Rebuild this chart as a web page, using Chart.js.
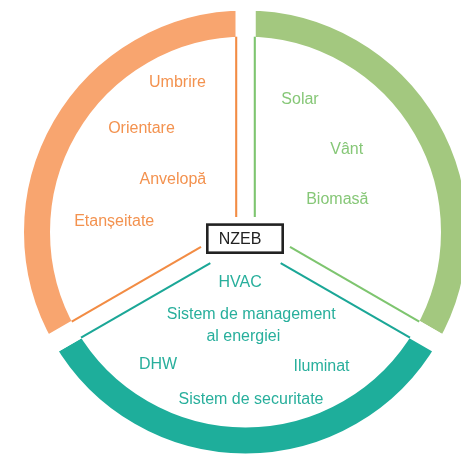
<!DOCTYPE html>
<html><head><meta charset="utf-8">
<script src="https://cdn.jsdelivr.net/npm/chart.js@4"></script>
<style>
html,body{margin:0;padding:0;background:#fff;overflow:hidden;width:461px;height:454px}
#wrap{position:absolute;left:0;top:0;width:491px;height:464px}
</style>
</head><body><div id="wrap"><canvas id="c"></canvas></div>
<script>
// ---- data ----
const categories = ['Surse regenerabile', 'Sisteme tehnice', 'Proiectare pasivă'];
const values = [1, 1, 1];
const greenItems = ['Solar', 'Vânt', 'Biomasă'];
const tealItems = ['HVAC', 'Sistem de management', 'al energiei', 'DHW', 'Iluminat', 'Sistem de securitate'];
const orangeItems = ['Umbrire', 'Orientare', 'Anvelopă', 'Etanșeitate'];
const centerLabel = 'NZEB';

// ---- layout / style (offsets from ring centre) ----
const arcColors = ['#A3C87F', '#1EAE9B', '#F8A56F'];
const lineColors = ['#7EC56F', '#1BA797', '#F28C44'];
const textColors = ['#86C777', '#28AF9C', '#F3924F'];
const greenPos = [[54.5, -127.7], [101.2, -77.8], [91.8, -28.2]];
const tealPos = [[-5.3, 55.3], [5.7, 86.7], [-2.2, 108.5], [-87.5, 137], [76, 139], [5.5, 172.3]];
const orangePos = [[-68, -144.7], [-104, -99.5], [-72.6, -48.5], [-131.3, -6.5]];
const GAP = 20;          // white gap between ring segments
const LINE_OFF = 9.3;    // thin line offset from gap centre
const FONT = '16px "Liberation Sans", Arial, Helvetica, sans-serif';

function startDist(angle) {
  // distance from centre where thin separator lines begin (box is wider than tall)
  const s = Math.abs(Math.sin(angle));
  return s > 0.9 ? 15 : 46;
}

const overlay = {
  id: 'overlay',
  afterDatasetsDraw(chart) {
    const ctx = chart.ctx;
    const meta = chart.getDatasetMeta(0);
    const a0 = meta.data[0];
    const cx = a0.x, cy = a0.y;
    const rIn = a0.innerRadius + GAP / 2;
    ctx.save();
    ctx.lineCap = 'butt';
    ctx.lineWidth = 2.1;
    meta.data.forEach((arc, i) => {
      ctx.strokeStyle = lineColors[i];
      const edges = [[arc.startAngle, 1], [arc.endAngle, -1]];
      edges.forEach(([ang, sgn]) => {
        const ux = Math.cos(ang), uy = Math.sin(ang);
        const px = -uy * sgn * LINE_OFF, py = ux * sgn * LINE_OFF;
        const t0 = startDist(ang);
        const t1 = Math.sqrt(rIn * rIn - LINE_OFF * LINE_OFF);
        ctx.beginPath();
        ctx.moveTo(cx + ux * t0 + px, cy + uy * t0 + py);
        ctx.lineTo(cx + ux * t1 + px, cy + uy * t1 + py);
        ctx.stroke();
      });
    });
    // labels
    ctx.font = FONT;
    ctx.textAlign = 'center';
    ctx.textBaseline = 'alphabetic';
    const groups = [[greenItems, greenPos], [tealItems, tealPos], [orangeItems, orangePos]];
    groups.forEach(([items, pos], gi) => {
      ctx.fillStyle = textColors[gi];
      items.forEach((t, k) => ctx.fillText(t, cx + pos[k][0], cy + pos[k][1]));
    });
    // centre box
    ctx.lineWidth = 2.6;
    ctx.strokeStyle = '#222';
    ctx.fillStyle = '#fff';
    ctx.fillRect(cx - 39.5, cy - 8.7, 78, 30.7);
    ctx.strokeRect(cx - 38.2, cy - 7.4, 75.4, 28.1);
    ctx.fillStyle = '#222';
    ctx.fillText(centerLabel, cx - 5.5, cy + 12.3);
    ctx.restore();
  }
};

new Chart(document.getElementById('c'), {
  type: 'doughnut',
  data: {
    labels: categories,
    datasets: [{
      data: values,
      backgroundColor: arcColors,
      borderColor: '#ffffff',
      borderWidth: GAP,
      hoverOffset: 0
    }]
  },
  options: {
    responsive: true,
    maintainAspectRatio: false,
    devicePixelRatio: 1,
    animation: false,
    radius: 221.5 + GAP / 2,
    cutout: ((195.5 - GAP / 2) / (221.5 + GAP / 2) * 100) + '%',
    layout: { padding: 0 },
    plugins: { legend: { display: false }, tooltip: { enabled: false } },
    events: []
  },
  plugins: [overlay]
});
</script>
</body></html>
